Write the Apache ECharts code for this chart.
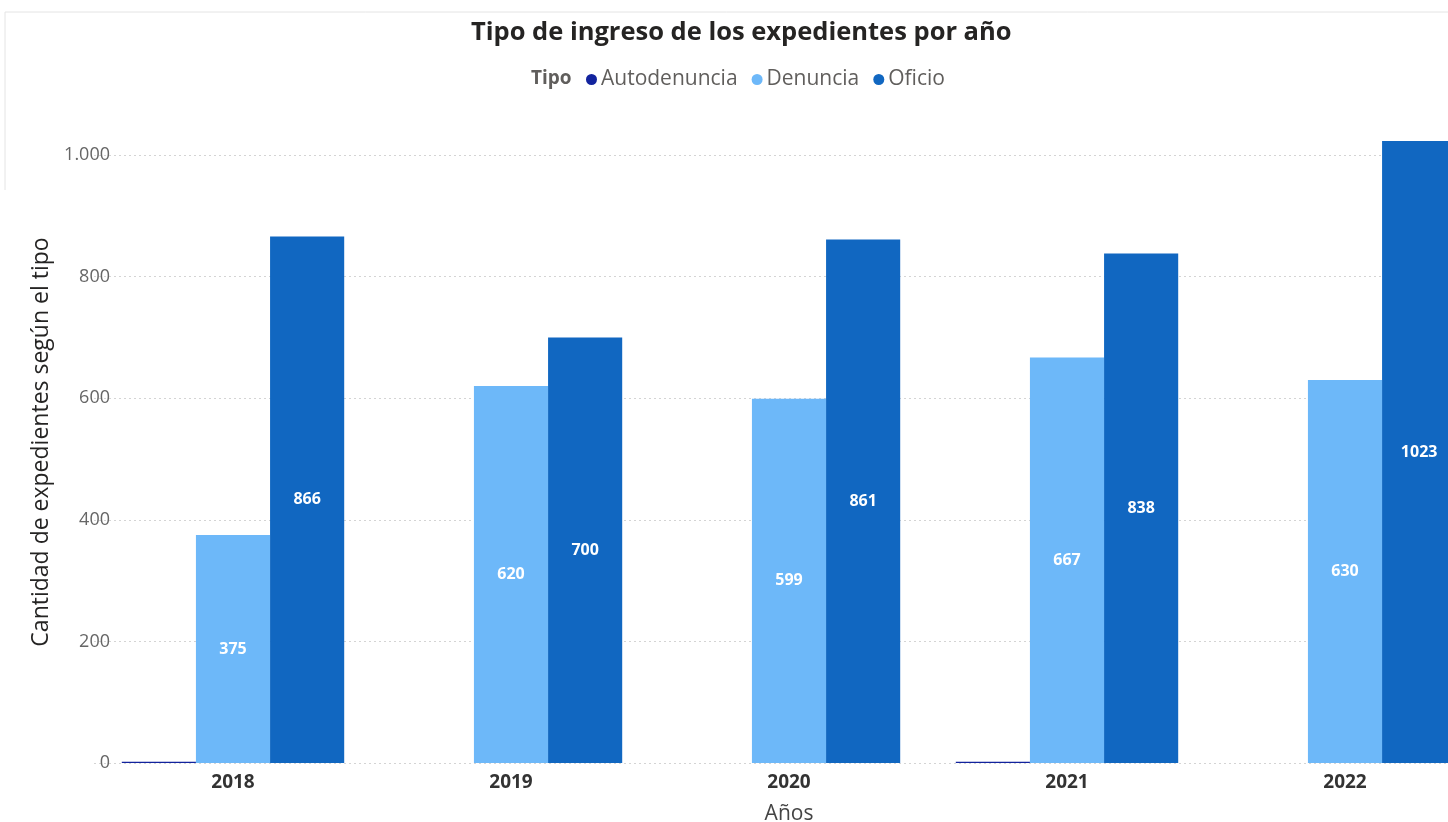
<!DOCTYPE html>
<html>
<head>
<meta charset="utf-8">
<title>Tipo de ingreso de los expedientes por año</title>
<script src="https://cdn.jsdelivr.net/npm/echarts@6/dist/echarts.min.js"></script>
<style>
  html, body { margin: 0; padding: 0; background: #fff; }
  #chart { width: 1448px; height: 822px; }
</style>
</head>
<body>
<div id="chart"></div>
<script>
// datos
const years = ['2018', '2019', '2020', '2021', '2022']
const autodenuncia = [2, 0, 0, 2, 0]
const denuncia = [375, 620, 599, 667, 630]
const oficio = [866, 700, 861, 838, 1023]

const font = "'Segoe UI', 'Open Sans', sans-serif"

const myChart = echarts.init(document.getElementById('chart'))

// separador de miles con punto
const fmt = (v) => String(v).replace(/\B(?=(\d{3})+(?!\d))/g, '.')

const barLabel = {
  show: true,
  position: 'inside',
  color: '#fff',
  fontFamily: font,
  fontWeight: 'bold',
  fontSize: 16
}

const options = {
  backgroundColor: '#fff',
  textStyle: { fontFamily: font },
  title: [
    {
      text: 'Tipo de ingreso de los expedientes por año',
      left: 466,
      top: 15,
      textStyle: { fontFamily: font, fontSize: 25.5, fontWeight: 'bold', color: '#252423' }
    },
    {
      text: 'Tipo',
      left: 526,
      top: 64,
      textStyle: { fontFamily: font, fontSize: 19, fontWeight: 'bold', color: '#605e5c' }
    }
  ],
  legend: {
    left: 581,
    top: 64,
    icon: 'circle',
    itemWidth: 11,
    itemHeight: 11,
    itemGap: 14,
    textStyle: { fontFamily: font, fontSize: 21, color: '#605e5c', padding: [0, 0, 0, -1] },
    data: ['Autodenuncia', 'Denuncia', 'Oficio']
  },
  graphic: [
    { type: 'line', shape: { x1: 5, y1: 12, x2: 1448, y2: 12 }, style: { stroke: '#e4e4e4', lineWidth: 1 } },
    { type: 'line', shape: { x1: 5, y1: 12, x2: 5, y2: 190 }, style: { stroke: '#e4e4e4', lineWidth: 1 } }
  ],
  grid: {
    left: 94,
    right: -36,
    top: 155,
    bottom: 59,
    containLabel: false,
    outerBoundsMode: 'none'
  },
  xAxis: {
    type: 'category',
    data: years,
    name: 'Años',
    nameLocation: 'middle',
    nameGap: 41,
    nameTextStyle: { fontFamily: font, fontSize: 21, color: '#444' },
    axisLine: { show: false },
    axisTick: { show: false },
    axisLabel: { margin: 10, fontFamily: font, fontSize: 19, fontWeight: 'bold', color: '#333' }
  },
  yAxis: {
    type: 'value',
    min: 0,
    max: 1000,
    interval: 200,
    name: 'Cantidad de expedientes según el tipo',
    nameLocation: 'middle',
    nameGap: 33,
    nameTextStyle: { fontFamily: font, fontSize: 23, color: '#252423', padding: [0, 0, 0, 34] },
    axisLine: { show: false },
    axisTick: { show: false },
    axisLabel: { margin: -16, fontFamily: font, fontSize: 18, color: '#666', formatter: fmt },
    splitLine: { lineStyle: { type: [2, 3], color: '#d4d4d4', width: 1 } }
  },
  series: [
    {
      name: 'Autodenuncia',
      type: 'bar',
      data: autodenuncia,
      barGap: '0%',
      barCategoryGap: '20%',
      clip: false,
      itemStyle: { color: '#12239E' },
      label: { show: false }
    },
    {
      name: 'Denuncia',
      type: 'bar',
      data: denuncia,
      barGap: '0%',
      barCategoryGap: '20%',
      clip: false,
      itemStyle: { color: '#6DB8F9' },
      label: barLabel
    },
    {
      name: 'Oficio',
      type: 'bar',
      data: oficio,
      barGap: '0%',
      barCategoryGap: '20%',
      clip: false,
      itemStyle: { color: '#1167C1' },
      label: barLabel
    }
  ]
}
myChart.setOption(options)
</script>
</body>
</html>
